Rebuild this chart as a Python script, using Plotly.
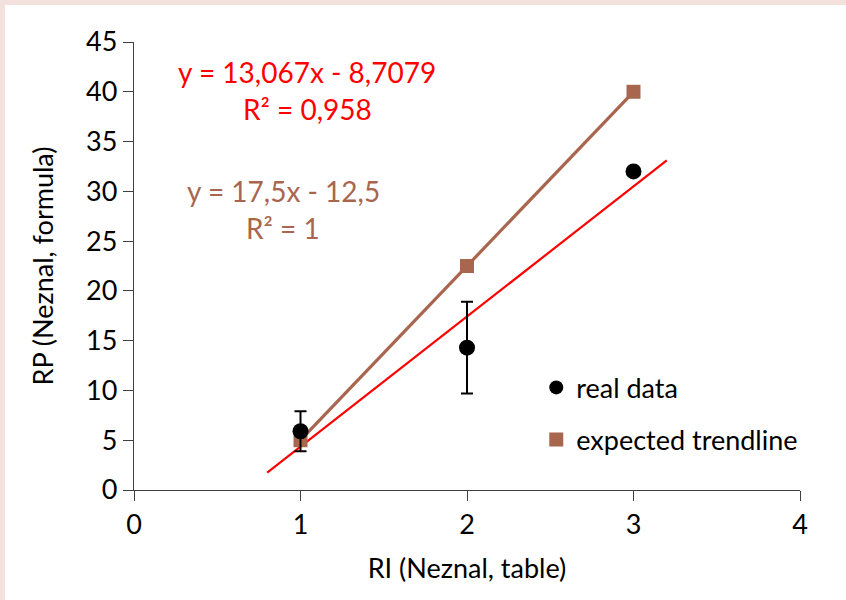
import plotly.graph_objects as go

ri = [1, 2, 3]
rp_real = [5.9, 14.3, 32.0]
rp_err = [2.0, 4.6, None]
rp_expected = [5.0, 22.5, 40.0]
trend_x = [0.8, 3.2]
slope, intercept = 13.067, -8.7079
trend_y = [slope * v + intercept for v in trend_x]

brown = "#a8664f"
red = "#ff0000"
font = "Lato"

fig = go.Figure()
fig.add_trace(go.Scatter(x=trend_x, y=trend_y, mode="lines",
                         line=dict(color=red, width=2.2), showlegend=False))
fig.add_trace(go.Scatter(x=ri, y=rp_expected, mode="lines+markers",
                         line=dict(color=brown, width=3.2),
                         marker=dict(symbol="square", size=14, color=brown),
                         showlegend=False))
fig.add_trace(go.Scatter(x=ri, y=rp_real, mode="markers",
                         marker=dict(symbol="circle", size=16, color="black"),
                         error_y=dict(type="data", array=rp_err, visible=True,
                                      color="black", thickness=2, width=6),
                         showlegend=False))
# legend-only traces
fig.add_trace(go.Scatter(x=[None], y=[None], mode="markers", name="real data",
                         marker=dict(symbol="circle", size=14, color="black"),
                         legendgroup="a"))
fig.add_trace(go.Scatter(x=[None], y=[None], mode="markers", name="expected trendline",
                         marker=dict(symbol="square", size=14, color=brown),
                         legendgroup="b"))

ann = [
    ("y = 13,067x - 8,7079", 1.04, 42.0, red),
    ("R² = 0,958", 1.04, 38.3, red),
    ("y = 17,5x - 12,5", 0.895, 30.0, brown),
    ("R² = 1", 0.895, 26.3, brown),
]
for t, ax, ay, c in ann:
    fig.add_annotation(x=ax, y=ay, text=t, showarrow=False,
                       font=dict(family=font, size=28, color=c),
                       xanchor="center", yanchor="middle")

fig.add_shape(type="rect", xref="paper", yref="paper",
              x0=(5 - 134) / 666, x1=(900 - 134) / 666,
              y0=(490 - 700) / 448, y1=(490 - 5) / 448,
              fillcolor="white", line=dict(width=0), layer="below")

axis_common = dict(showgrid=False, zeroline=False, showline=True,
                   linecolor="#404040", linewidth=1.3,
                   ticks="outside", ticklen=10, tickwidth=1.3, tickcolor="#404040",
                   tickfont=dict(family=font, size=27, color="black"))

fig.update_layout(
    width=846, height=600,
    margin=dict(l=134, r=46, t=42, b=110),
    paper_bgcolor="#f2e1dc", plot_bgcolor="white",
    xaxis=dict(range=[0, 4], dtick=1,
               title=dict(text="RI (Neznal, table)", font=dict(family=font, size=27, color="black"),
                          standoff=20),
               **axis_common),
    yaxis=dict(range=[0, 45], dtick=5,
               title=dict(text="RP (Neznal, formula)", font=dict(family=font, size=27, color="black"),
                          standoff=24),
               **axis_common),
    legend=dict(x=0.604, y=0.17, xanchor="left", yanchor="middle",
                bgcolor="rgba(0,0,0,0)", font=dict(family=font, size=27, color="black"),
                tracegroupgap=14, itemwidth=30),
    showlegend=True,
)

fig.write_html("out.html")
